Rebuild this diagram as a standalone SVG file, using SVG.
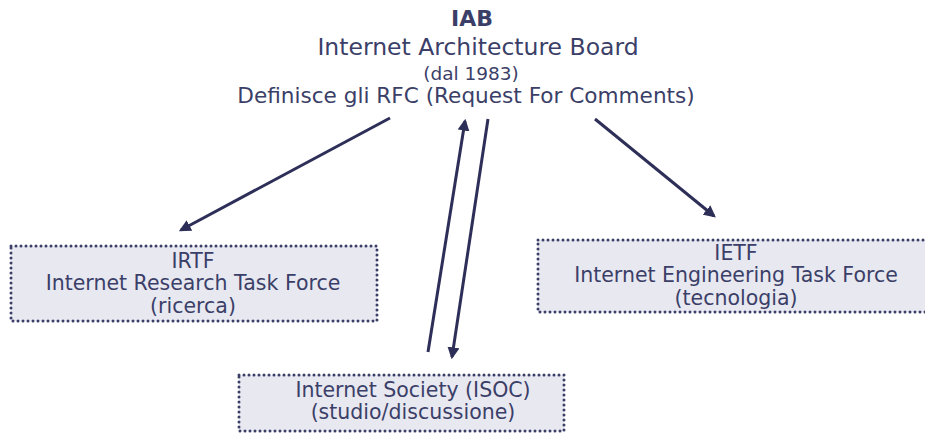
<svg xmlns="http://www.w3.org/2000/svg" width="925" height="437" viewBox="0 0 925 437">
<defs>
<style>
text{font-family:"DejaVu Sans",Verdana,sans-serif;fill:#3b3f68;text-anchor:middle}
.box{fill:#e8e8f1;stroke:#3b3f68;stroke-width:3;stroke-dasharray:0 5;stroke-linecap:round}
.t{font-size:20.5px}
.c{stroke:#2e2f58;stroke-width:3;fill:none;marker-end:url(#ah)}
</style>
<marker id="ah" viewBox="0 0 10 10" refX="8" refY="5" markerWidth="4" markerHeight="4" orient="auto" markerUnits="strokeWidth">
<path d="M0,0 L10,5 L0,10 Z" fill="#2e2f58"/>
</marker>
</defs>
<g id="iab">
<text x="472" y="26" font-size="22" font-weight="bold">IAB</text>
<text x="478" y="55" font-size="23.5">Internet Architecture Board</text>
<text x="471" y="80" font-size="18.5">(dal 1983)</text>
<text x="466" y="103" font-size="21.6">Definisce gli RFC (Request For Comments)</text>
</g>
<g id="irtf">
<rect class="box" x="11" y="246" width="366" height="75"/>
<text class="t" x="193" y="268">IRTF</text>
<text class="t" x="193" y="290">Internet Research Task Force</text>
<text class="t" x="193" y="313">(ricerca)</text>
</g>
<g id="ietf">
<rect class="box" x="538" y="240" width="400" height="72"/>
<text class="t" x="736" y="260">IETF</text>
<text class="t" x="736" y="282">Internet Engineering Task Force</text>
<text class="t" x="736" y="305">(tecnologia)</text>
</g>
<g id="isoc">
<rect class="box" x="239" y="375" width="325" height="56"/>
<text class="t" x="413" y="397">Internet Society (ISOC)</text>
<text class="t" x="413" y="419">(studio/discussione)</text>
</g>
<g id="connectors">
<line class="c" x1="390" y1="118" x2="181" y2="230"/>
<line class="c" x1="595" y1="119" x2="714" y2="216"/>
<line class="c" x1="428" y1="352" x2="465" y2="121"/>
<line class="c" x1="488" y1="119" x2="452" y2="357"/>
</g>
</svg>
